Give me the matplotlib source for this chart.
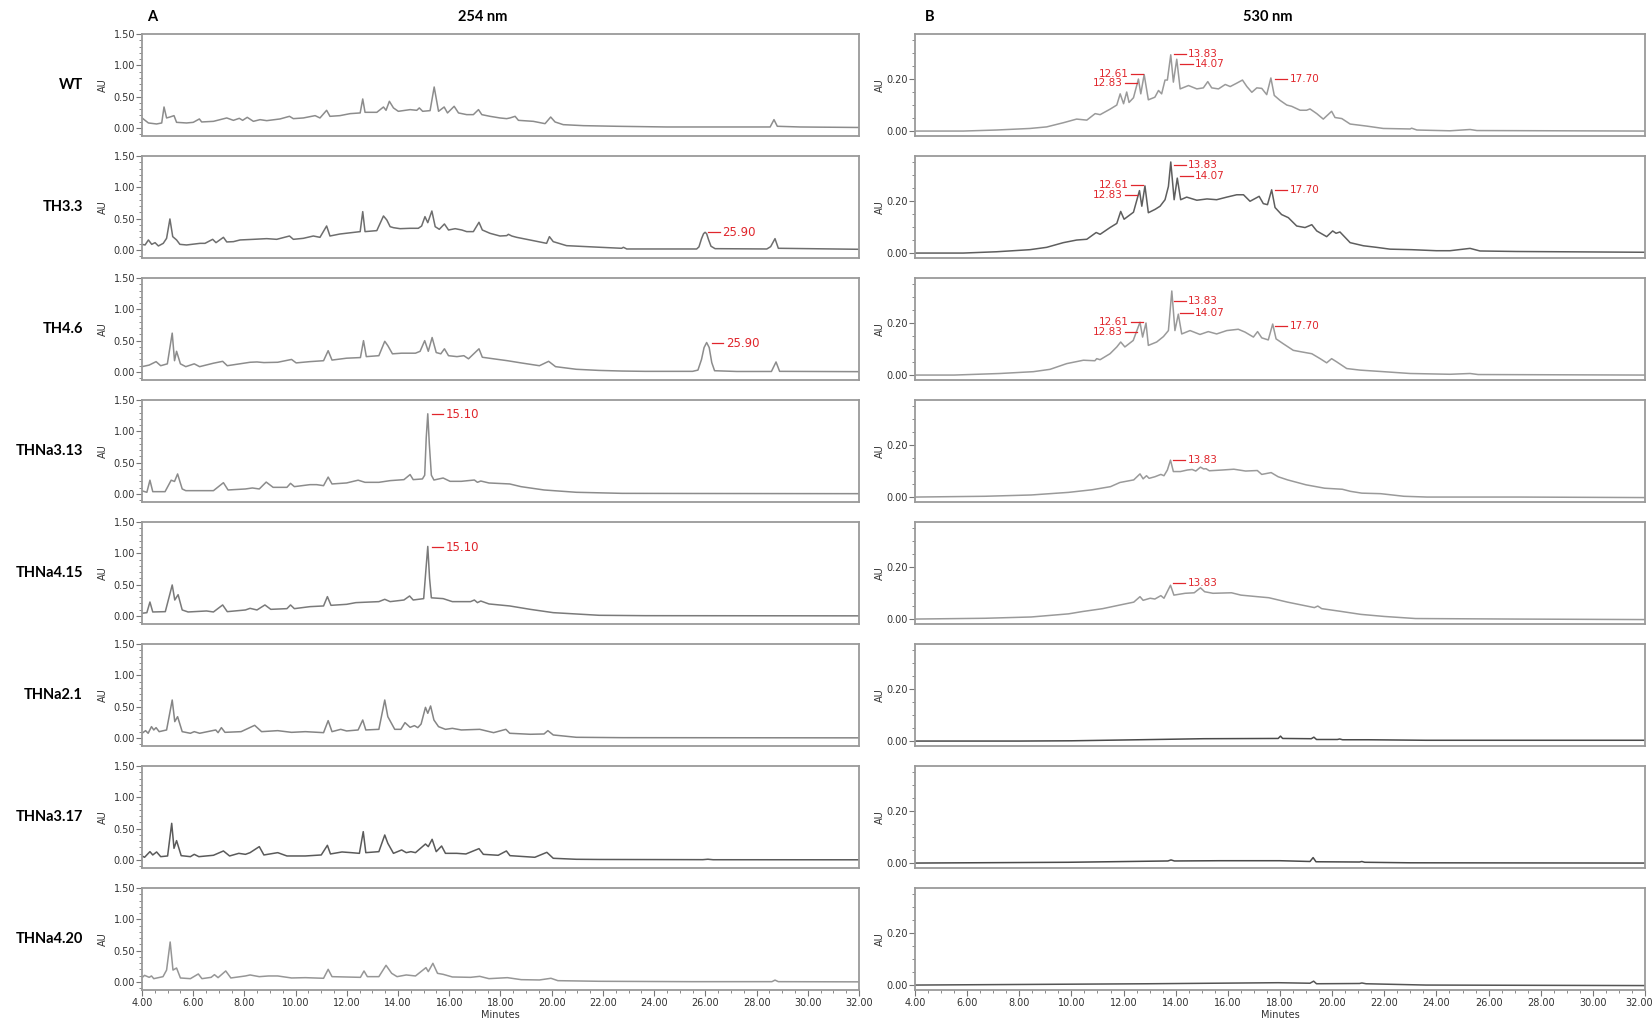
import numpy as np
import matplotlib.pyplot as plt
import matplotlib.transforms as mtransforms
from matplotlib.ticker import MultipleLocator, FixedLocator, FormatStrFormatter

# sample names (rows)
samples = ["WT", "TH3.3", "TH4.6", "THNa3.13", "THNa4.15", "THNa2.1", "THNa3.17", "THNa4.20"]

# ---- 254 nm traces, (minutes, AU) ----
wt_254 = [(4.0, 0.16), (4.25, 0.08), (4.57, 0.064), (4.77, 0.08), (4.86, 0.335), (4.96, 0.16), (5.09, 0.175),
          (5.25, 0.197), (5.35, 0.09), (5.74, 0.08), (6.0, 0.09), (6.24, 0.144), (6.33, 0.096), (6.79, 0.106),
          (7.31, 0.16), (7.57, 0.122), (7.8, 0.154), (7.93, 0.122), (8.11, 0.17), (8.35, 0.106), (8.61, 0.133),
          (8.87, 0.117), (9.39, 0.144), (9.76, 0.186), (9.91, 0.149), (10.3, 0.16), (10.76, 0.197), (10.95, 0.16),
          (11.21, 0.282), (11.34, 0.186), (11.73, 0.197), (12.13, 0.229), (12.52, 0.24), (12.62, 0.463),
          (12.71, 0.25), (13.17, 0.25), (13.43, 0.335), (13.53, 0.282), (13.66, 0.426), (13.82, 0.32),
          (14.01, 0.266), (14.47, 0.293), (14.73, 0.282), (14.83, 0.32), (14.96, 0.266), (15.25, 0.277),
          (15.41, 0.654), (15.58, 0.266), (15.8, 0.335), (15.93, 0.24), (16.19, 0.346), (16.36, 0.24),
          (16.68, 0.213), (16.94, 0.213), (17.14, 0.293), (17.27, 0.213), (17.59, 0.186), (17.98, 0.16),
          (18.24, 0.149), (18.37, 0.16), (18.57, 0.186), (18.7, 0.122), (19.28, 0.106), (19.74, 0.069),
          (19.96, 0.175), (20.13, 0.096), (20.45, 0.053), (21.24, 0.037), (22.54, 0.027), (24.49, 0.016),
          (27.09, 0.016), (28.53, 0.016), (28.68, 0.133), (28.81, 0.027), (29.7, 0.016), (32.0, 0.008)]

th33_254 = [(4.0, 0.09), (4.12, 0.08), (4.25, 0.16), (4.38, 0.09), (4.51, 0.117), (4.64, 0.064), (4.83, 0.106),
            (4.96, 0.186), (5.09, 0.495), (5.2, 0.213), (5.35, 0.16), (5.48, 0.09), (5.74, 0.08), (6.27, 0.106),
            (6.46, 0.106), (6.76, 0.17), (6.89, 0.117), (7.18, 0.202), (7.31, 0.128), (7.57, 0.133), (7.83, 0.16),
            (8.35, 0.17), (8.87, 0.181), (9.26, 0.17), (9.76, 0.223), (9.91, 0.17), (10.3, 0.186), (10.69, 0.223),
            (10.95, 0.202), (11.21, 0.383), (11.34, 0.223), (11.73, 0.255), (12.52, 0.293), (12.62, 0.612),
            (12.71, 0.293), (13.17, 0.309), (13.43, 0.543), (13.56, 0.479), (13.69, 0.372), (13.82, 0.356),
            (14.08, 0.34), (14.47, 0.346), (14.79, 0.346), (14.92, 0.383), (15.05, 0.532), (15.16, 0.436),
            (15.32, 0.622), (15.45, 0.372), (15.61, 0.33), (15.81, 0.415), (15.97, 0.319), (16.23, 0.34),
            (16.49, 0.319), (16.68, 0.293), (16.94, 0.293), (17.16, 0.442), (17.29, 0.319), (17.59, 0.266),
            (17.98, 0.223), (18.24, 0.229), (18.31, 0.25), (18.44, 0.223), (18.63, 0.202), (19.28, 0.149),
            (19.8, 0.106), (19.91, 0.213), (20.06, 0.133), (20.58, 0.069), (21.89, 0.043), (22.73, 0.027),
            (22.8, 0.043), (22.93, 0.016), (25.66, 0.016), (25.75, 0.05), (25.85, 0.18), (25.93, 0.26),
            (25.99, 0.282), (26.05, 0.26), (26.12, 0.17), (26.22, 0.06), (26.38, 0.021), (28.4, 0.016),
            (28.55, 0.053), (28.72, 0.181), (28.85, 0.027), (32.0, 0.011)]

th46_254 = [(4.0, 0.085), (4.28, 0.11), (4.55, 0.165), (4.73, 0.10), (4.99, 0.13), (5.18, 0.62), (5.27, 0.18),
            (5.35, 0.33), (5.5, 0.13), (5.71, 0.085), (6.04, 0.13), (6.25, 0.085), (6.79, 0.14), (7.15, 0.17),
            (7.33, 0.10), (8.22, 0.155), (8.49, 0.16), (8.76, 0.15), (9.3, 0.155), (9.84, 0.2), (10.02, 0.145),
            (10.55, 0.165), (11.09, 0.18), (11.27, 0.34), (11.42, 0.19), (11.99, 0.22), (12.53, 0.23),
            (12.65, 0.50), (12.76, 0.245), (13.25, 0.26), (13.48, 0.49), (13.6, 0.42), (13.78, 0.29),
            (14.14, 0.30), (14.68, 0.30), (14.86, 0.33), (15.04, 0.50), (15.18, 0.33), (15.33, 0.55),
            (15.49, 0.31), (15.67, 0.29), (15.81, 0.37), (15.97, 0.26), (16.3, 0.245), (16.57, 0.26),
            (16.75, 0.21), (17.16, 0.37), (17.29, 0.235), (17.73, 0.21), (18.27, 0.18), (18.8, 0.145),
            (19.52, 0.10), (19.88, 0.17), (20.15, 0.085), (20.96, 0.043), (21.85, 0.025), (22.75, 0.015),
            (23.65, 0.01), (25.5, 0.01), (25.71, 0.03), (25.85, 0.2), (25.95, 0.39), (26.05, 0.47), (26.15, 0.39),
            (26.25, 0.15), (26.36, 0.02), (27.23, 0.008), (28.58, 0.008), (28.76, 0.16), (28.9, 0.01), (32.0, 0.005)]

thna313_254 = [(4.0, 0.05), (4.19, 0.027), (4.31, 0.22), (4.42, 0.037), (4.9, 0.037), (5.14, 0.22), (5.27, 0.2),
               (5.39, 0.32), (5.57, 0.08), (5.71, 0.053), (6.79, 0.053), (7.18, 0.18), (7.36, 0.064), (8.04, 0.08),
               (8.31, 0.096), (8.58, 0.08), (8.85, 0.19), (9.12, 0.106), (9.66, 0.106), (9.8, 0.17), (9.95, 0.117),
               (10.56, 0.149), (10.82, 0.149), (11.09, 0.133), (11.27, 0.27), (11.42, 0.16), (11.99, 0.176),
               (12.44, 0.22), (12.71, 0.186), (13.25, 0.186), (13.69, 0.213), (14.23, 0.229), (14.47, 0.31),
               (14.59, 0.229), (14.95, 0.24), (15.04, 0.3), (15.1, 0.9), (15.16, 1.28), (15.22, 0.8), (15.3, 0.3),
               (15.4, 0.223), (15.76, 0.255), (16.03, 0.202), (16.47, 0.202), (16.98, 0.223), (17.1, 0.186),
               (17.23, 0.207), (17.55, 0.176), (18.36, 0.16), (18.8, 0.117), (19.7, 0.064), (20.96, 0.027),
               (22.75, 0.01), (25.44, 0.008), (32.0, 0.005)]

thna415_254 = [(4.0, 0.043), (4.19, 0.053), (4.31, 0.223), (4.42, 0.064), (4.91, 0.069), (5.18, 0.495),
               (5.28, 0.255), (5.41, 0.34), (5.57, 0.096), (5.8, 0.064), (6.52, 0.08), (6.79, 0.064), (7.15, 0.176),
               (7.33, 0.069), (8.04, 0.096), (8.22, 0.122), (8.49, 0.096), (8.8, 0.176), (9.03, 0.106),
               (9.66, 0.117), (9.8, 0.176), (9.95, 0.117), (10.56, 0.149), (11.09, 0.16), (11.24, 0.309),
               (11.38, 0.17), (11.99, 0.186), (12.35, 0.213), (13.25, 0.229), (13.48, 0.266), (13.69, 0.229),
               (14.23, 0.255), (14.45, 0.319), (14.59, 0.255), (15.0, 0.277), (15.08, 0.7), (15.16, 1.11),
               (15.23, 0.6), (15.3, 0.29), (15.76, 0.277), (16.12, 0.229), (16.83, 0.229), (16.98, 0.255),
               (17.1, 0.213), (17.23, 0.239), (17.55, 0.192), (18.36, 0.16), (19.16, 0.106), (20.06, 0.053),
               (21.85, 0.011), (23.65, 0.005), (32.0, 0.002)]

thna21_254 = [(4.0, 0.075), (4.14, 0.117), (4.24, 0.075), (4.37, 0.181), (4.46, 0.128), (4.55, 0.165),
              (4.67, 0.101), (4.96, 0.128), (5.18, 0.606), (5.28, 0.261), (5.39, 0.34), (5.57, 0.101),
              (5.89, 0.075), (6.04, 0.101), (6.25, 0.075), (6.88, 0.128), (6.97, 0.085), (7.1, 0.165),
              (7.24, 0.09), (7.87, 0.101), (8.4, 0.202), (8.67, 0.101), (9.3, 0.117), (9.84, 0.09), (10.38, 0.101),
              (11.09, 0.085), (11.27, 0.277), (11.42, 0.101), (11.76, 0.138), (11.99, 0.112), (12.44, 0.128),
              (12.62, 0.287), (12.74, 0.128), (13.25, 0.138), (13.48, 0.606), (13.6, 0.34), (13.87, 0.138),
              (14.11, 0.138), (14.27, 0.245), (14.47, 0.17), (14.64, 0.197), (14.77, 0.165), (14.9, 0.223),
              (15.07, 0.489), (15.16, 0.394), (15.27, 0.511), (15.4, 0.287), (15.58, 0.181), (15.85, 0.138),
              (16.12, 0.154), (16.47, 0.128), (17.19, 0.138), (17.73, 0.085), (18.21, 0.138), (18.36, 0.075),
              (19.16, 0.059), (19.7, 0.064), (19.85, 0.117), (20.06, 0.048), (20.96, 0.011), (22.75, 0.005),
              (32.0, 0.002)]

thna317_254 = [(4.0, 0.064), (4.1, 0.043), (4.31, 0.133), (4.42, 0.08), (4.57, 0.128), (4.73, 0.053), (5.0, 0.064),
               (5.16, 0.585), (5.25, 0.186), (5.35, 0.309), (5.53, 0.069), (5.89, 0.053), (6.04, 0.09),
               (6.22, 0.053), (6.79, 0.075), (7.18, 0.144), (7.42, 0.064), (7.78, 0.106), (8.04, 0.09),
               (8.22, 0.117), (8.58, 0.213), (8.76, 0.08), (9.3, 0.117), (9.66, 0.064), (10.38, 0.064),
               (11.0, 0.08), (11.24, 0.234), (11.36, 0.096), (11.81, 0.128), (12.17, 0.117), (12.49, 0.106),
               (12.64, 0.452), (12.74, 0.117), (13.25, 0.133), (13.48, 0.399), (13.6, 0.266), (13.82, 0.106),
               (14.14, 0.16), (14.32, 0.117), (14.5, 0.133), (14.68, 0.117), (15.07, 0.255), (15.18, 0.213),
               (15.33, 0.33), (15.49, 0.133), (15.7, 0.223), (15.85, 0.106), (16.29, 0.106), (16.65, 0.096),
               (17.16, 0.181), (17.33, 0.09), (17.91, 0.075), (18.23, 0.144), (18.37, 0.069), (19.34, 0.043),
               (19.81, 0.122), (20.06, 0.027), (20.96, 0.011), (21.85, 0.008), (25.9, 0.005), (26.1, 0.012),
               (26.3, 0.004), (32.0, 0.003)]

thna420_254 = [(4.0, 0.069), (4.1, 0.106), (4.28, 0.074), (4.37, 0.096), (4.46, 0.053), (4.82, 0.085),
               (4.96, 0.19), (5.1, 0.638), (5.21, 0.19), (5.35, 0.223), (5.5, 0.064), (5.89, 0.053), (6.2, 0.128),
               (6.34, 0.053), (6.7, 0.074), (6.83, 0.117), (6.97, 0.069), (7.27, 0.176), (7.47, 0.064),
               (8.04, 0.096), (8.22, 0.112), (8.58, 0.085), (8.94, 0.096), (9.3, 0.096), (9.84, 0.064),
               (10.38, 0.069), (11.09, 0.059), (11.27, 0.202), (11.42, 0.085), (12.53, 0.074), (12.67, 0.176),
               (12.8, 0.085), (13.25, 0.085), (13.53, 0.266), (13.75, 0.138), (13.96, 0.085), (14.32, 0.112),
               (14.68, 0.096), (15.09, 0.229), (15.18, 0.165), (15.36, 0.298), (15.54, 0.138), (15.76, 0.122),
               (16.12, 0.08), (16.83, 0.074), (17.19, 0.09), (17.55, 0.053), (18.27, 0.069), (18.81, 0.037),
               (19.52, 0.032), (19.97, 0.059), (20.24, 0.021), (21.85, 0.011), (25.44, 0.005), (28.6, 0.005),
               (28.72, 0.03), (28.85, 0.005), (32.0, 0.002)]

# ---- 530 nm traces ----
wt_530 = [(4.0, 0.0), (5.85, 0.0), (7.13, 0.004), (8.41, 0.01), (9.05, 0.016), (9.69, 0.032), (10.2, 0.046),
          (10.59, 0.042), (10.91, 0.067), (11.1, 0.063), (11.48, 0.084), (11.74, 0.10), (11.87, 0.143),
          (12.0, 0.105), (12.12, 0.15), (12.21, 0.11), (12.38, 0.128), (12.57, 0.20), (12.66, 0.143),
          (12.79, 0.217), (12.95, 0.12), (13.2, 0.13), (13.34, 0.156), (13.46, 0.143), (13.59, 0.196),
          (13.68, 0.196), (13.81, 0.293), (13.91, 0.188), (14.04, 0.276), (14.17, 0.162), (14.49, 0.175),
          (14.81, 0.162), (15.06, 0.166), (15.23, 0.19), (15.38, 0.166), (15.64, 0.162), (15.9, 0.179),
          (16.09, 0.171), (16.34, 0.184), (16.56, 0.196), (16.73, 0.171), (16.92, 0.149), (17.11, 0.166),
          (17.3, 0.164), (17.49, 0.14), (17.65, 0.204), (17.78, 0.137), (18.0, 0.118), (18.26, 0.10),
          (18.45, 0.095), (18.77, 0.08), (19.02, 0.08), (19.15, 0.085), (19.41, 0.067), (19.66, 0.046),
          (19.98, 0.076), (20.11, 0.052), (20.37, 0.048), (20.69, 0.027), (21.33, 0.019), (21.96, 0.01),
          (22.99, 0.008), (23.05, 0.011), (23.25, 0.004), (24.52, 0.001), (25.29, 0.006), (25.55, 0.002),
          (32.0, 0.0)]

th33_530 = [(4.0, 0.0), (5.85, 0.0), (7.13, 0.005), (8.41, 0.013), (9.05, 0.022), (9.69, 0.04), (10.2, 0.05),
            (10.59, 0.053), (10.95, 0.079), (11.1, 0.072), (11.48, 0.098), (11.74, 0.114), (11.89, 0.16),
            (12.02, 0.13), (12.18, 0.142), (12.38, 0.157), (12.61, 0.24), (12.7, 0.18), (12.82, 0.258),
            (12.95, 0.155), (13.21, 0.168), (13.4, 0.18), (13.59, 0.205), (13.72, 0.256), (13.81, 0.35),
            (13.94, 0.205), (14.06, 0.288), (14.19, 0.205), (14.42, 0.215), (14.81, 0.203), (15.2, 0.208),
            (15.57, 0.205), (15.96, 0.215), (16.34, 0.224), (16.6, 0.224), (16.85, 0.199), (17.2, 0.218),
            (17.36, 0.19), (17.52, 0.186), (17.68, 0.243), (17.81, 0.175), (18.06, 0.148), (18.32, 0.136),
            (18.64, 0.104), (18.96, 0.098), (19.22, 0.109), (19.41, 0.085), (19.79, 0.063), (20.02, 0.085),
            (20.15, 0.076), (20.3, 0.081), (20.69, 0.04), (21.2, 0.028), (21.7, 0.022), (22.22, 0.015),
            (23.05, 0.013), (24.0, 0.009), (24.52, 0.009), (25.29, 0.018), (25.67, 0.008), (27.08, 0.006),
            (32.0, 0.003)]

th46_530 = [(4.0, 0.0), (5.5, 0.0), (7.26, 0.006), (8.54, 0.013), (9.18, 0.022), (9.82, 0.044), (10.46, 0.057),
            (10.9, 0.055), (10.97, 0.063), (11.1, 0.059), (11.48, 0.082), (11.74, 0.108), (11.89, 0.127),
            (12.05, 0.108), (12.37, 0.133), (12.63, 0.203), (12.73, 0.146), (12.86, 0.2), (12.95, 0.114),
            (13.27, 0.127), (13.53, 0.148), (13.72, 0.171), (13.85, 0.323), (13.97, 0.171), (14.1, 0.234),
            (14.23, 0.158), (14.55, 0.171), (14.93, 0.156), (15.25, 0.167), (15.57, 0.158), (15.96, 0.171),
            (16.4, 0.176), (16.66, 0.165), (16.98, 0.146), (17.14, 0.167), (17.3, 0.143), (17.55, 0.135),
            (17.72, 0.196), (17.85, 0.139), (18.13, 0.12), (18.51, 0.095), (18.83, 0.089), (19.22, 0.082),
            (19.54, 0.063), (19.79, 0.047), (19.98, 0.063), (20.17, 0.051), (20.56, 0.025), (21.07, 0.019),
            (21.97, 0.013), (22.99, 0.006), (24.52, 0.003), (25.29, 0.006), (25.6, 0.002), (32.0, 0.0)]

thna313_530 = [(4.0, 0.0), (6.68, 0.003), (8.46, 0.008), (9.89, 0.018), (10.79, 0.028), (11.5, 0.04),
               (11.86, 0.056), (12.39, 0.066), (12.63, 0.089), (12.75, 0.07), (12.88, 0.082), (12.98, 0.072),
               (13.2, 0.078), (13.43, 0.087), (13.55, 0.082), (13.68, 0.104), (13.8, 0.142), (13.91, 0.098),
               (14.18, 0.098), (14.45, 0.104), (14.63, 0.106), (14.77, 0.1), (14.95, 0.115), (15.07, 0.108),
               (15.16, 0.109), (15.29, 0.101), (15.79, 0.104), (16.23, 0.107), (16.68, 0.1), (17.13, 0.102),
               (17.3, 0.087), (17.66, 0.094), (17.93, 0.078), (18.29, 0.066), (19.0, 0.047), (19.71, 0.034),
               (20.39, 0.03), (20.7, 0.022), (21.14, 0.015), (21.86, 0.013), (22.75, 0.003), (23.64, 0.0),
               (27.2, 0.0), (32.0, -0.002)]

thna415_530 = [(4.0, 0.0), (6.68, 0.003), (8.46, 0.008), (9.89, 0.02), (10.43, 0.029), (11.2, 0.04),
               (11.86, 0.054), (12.39, 0.065), (12.63, 0.086), (12.75, 0.072), (13.02, 0.08), (13.2, 0.077),
               (13.43, 0.09), (13.55, 0.08), (13.8, 0.13), (13.93, 0.092), (14.36, 0.099), (14.71, 0.101),
               (14.95, 0.12), (15.11, 0.105), (15.43, 0.099), (16.14, 0.101), (16.5, 0.092), (17.13, 0.086),
               (17.57, 0.082), (18.29, 0.065), (19.32, 0.044), (19.45, 0.05), (19.6, 0.04), (20.3, 0.03),
               (21.1, 0.018), (22.0, 0.01), (23.2, 0.002), (27.0, 0.0), (32.0, -0.002)]

thna21_530 = [(4.0, 0.0), (8.0, 0.0), (10.0, 0.001), (12.57, 0.005), (15.07, 0.009), (17.93, 0.01),
              (18.02, 0.019), (18.1, 0.01), (19.2, 0.009), (19.3, 0.015), (19.4, 0.006), (20.2, 0.006),
              (20.29, 0.008), (20.4, 0.005), (21.4, 0.005), (23.6, 0.003), (32.0, 0.003)]

thna317_530 = [(4.0, 0.0), (9.89, 0.003), (13.7, 0.008), (13.82, 0.012), (13.95, 0.008), (15.7, 0.009),
               (18.0, 0.009), (19.15, 0.006), (19.27, 0.021), (19.38, 0.005), (21.05, 0.004), (21.14, 0.006),
               (21.25, 0.003), (23.0, 0.001), (32.0, 0.0)]

thna420_530 = [(4.0, 0.0), (12.93, 0.005), (17.93, 0.009), (19.15, 0.007), (19.29, 0.015), (19.4, 0.005),
               (21.05, 0.006), (21.14, 0.008), (21.3, 0.005), (23.6, 0.0), (32.0, -0.002)]

traces_254 = [wt_254, th33_254, th46_254, thna313_254, thna415_254, thna21_254, thna317_254, thna420_254]
traces_530 = [wt_530, th33_530, th46_530, thna313_530, thna415_530, thna21_530, thna317_530, thna420_530]

# line colours per row
colors_254 = ["#8c8c8c", "#6e6e6e", "#8c8c8c", "#8c8c8c", "#7a7a7a", "#858585", "#5a5a5a", "#969696"]
colors_530 = ["#9a9a9a", "#5e5e5e", "#9a9a9a", "#9a9a9a", "#9a9a9a", "#4a4a4a", "#4a4a4a", "#555555"]

# retention-time labels: (row, line start, line end, AU level, text, side)
labels_254 = [(1, 26.12, 26.57, 0.28, "25.90", "right"),
              (2, 26.25, 26.70, 0.46, "25.90", "right"),
              (3, 15.34, 15.76, 1.27, "15.10", "right"),
              (4, 15.34, 15.76, 1.10, "15.10", "right")]
labels_530 = [(0, 12.29, 12.76, 0.218, "12.61", "left"), (0, 12.06, 12.53, 0.184, "12.83", "left"),
              (0, 13.93, 14.38, 0.295, "13.83", "right"), (0, 14.17, 14.65, 0.256, "14.07", "right"),
              (0, 17.81, 18.28, 0.200, "17.70", "right"),
              (1, 12.29, 12.76, 0.261, "12.61", "left"), (1, 12.06, 12.53, 0.225, "12.83", "left"),
              (1, 13.93, 14.38, 0.338, "13.83", "right"), (1, 14.17, 14.65, 0.296, "14.07", "right"),
              (1, 17.81, 18.28, 0.242, "17.70", "right"),
              (2, 12.29, 12.76, 0.205, "12.61", "left"), (2, 12.06, 12.53, 0.166, "12.83", "left"),
              (2, 13.93, 14.38, 0.283, "13.83", "right"), (2, 14.17, 14.65, 0.240, "14.07", "right"),
              (2, 17.81, 18.28, 0.187, "17.70", "right"),
              (3, 13.91, 14.36, 0.142, "13.83", "right"),
              (4, 13.91, 14.36, 0.140, "13.83", "right")]

RED = "#e0262c"
FRAME = "#9a9a9a"
narrow = ["Liberation Sans Narrow", "DejaVu Sans"]
bold_font = ["Lato", "DejaVu Sans"]

W, H = 1652, 1023
fig = plt.figure(figsize=(W / 100, H / 100), dpi=100)


def setup_axes(ax, ymax_major, yminor, ylim, last):
    ax.set_xlim(4, 32)
    ax.set_ylim(*ylim)
    ax.yaxis.set_major_locator(FixedLocator(ymax_major))
    ax.yaxis.set_minor_locator(MultipleLocator(yminor))
    ax.yaxis.set_major_formatter(FormatStrFormatter("%.2f"))
    for s in ax.spines.values():
        s.set_color(FRAME)
        s.set_linewidth(1.3)
    ax.tick_params(axis="y", which="major", length=4, width=0.8, color="#777777", labelsize=7,
                   labelcolor="#333333", pad=1)
    ax.tick_params(axis="y", which="minor", length=2, width=0.6, color="#777777")
    for lab in ax.get_yticklabels():
        lab.set_family(narrow)
    if last:
        ax.set_xticks(np.arange(4, 33, 2))
        ax.xaxis.set_minor_locator(MultipleLocator(0.5))
        ax.xaxis.set_major_formatter(FormatStrFormatter("%.2f"))
        ax.tick_params(axis="x", which="major", length=4, width=0.8, color="#777777", labelsize=7,
                       labelcolor="#333333", pad=2)
        ax.tick_params(axis="x", which="minor", length=2.5, width=0.6, color="#777777")
        for lab in ax.get_xticklabels():
            lab.set_family(narrow)
        ax.set_xlabel("Minutes", fontsize=7, color="#333333", labelpad=1, family=narrow)
    else:
        ax.tick_params(axis="x", which="both", bottom=False, labelbottom=False)


def add_label(ax, t0, t1, y, text, side, size, family):
    ax.plot([t0, t1], [y, y], color=RED, lw=0.9)
    if side == "right":
        ax.text(t1 + 0.1, y, text, ha="left", va="center", color=RED, fontsize=size, family=family)
    else:
        ax.text(t0 - 0.1, y, text, ha="right", va="center", color=RED, fontsize=size, family=family)


axes_254, axes_530 = [], []
for r in range(8):
    top = 34 + 122 * r
    bottom = top + 102
    yb = 1 - bottom / H
    h = 102 / H
    a1 = fig.add_axes([142 / W, yb, (859 - 142) / W, h])
    a2 = fig.add_axes([915 / W, yb, (1645 - 915) / W, h])
    last = r == 7
    setup_axes(a1, [0.0, 0.5, 1.0, 1.5], 0.1, (-0.128, 1.5), last)
    setup_axes(a2, [0.0, 0.2], 0.05, (-0.019, 0.373), last)

    t, au = zip(*traces_254[r])
    a1.plot(t, au, color=colors_254[r], lw=1.1)
    t, au = zip(*traces_530[r])
    a2.plot(t, au, color=colors_530[r], lw=1.1)

    ymid = 1 - (top + bottom) / 2 / H
    fig.text(83 / W, ymid, samples[r], ha="right", va="center", fontsize=10.5, weight="bold", family=bold_font)
    fig.text(103 / W, ymid, "AU", ha="center", va="center", rotation=90, fontsize=7, color="#333333", family=narrow)
    fig.text(880 / W, ymid, "AU", ha="center", va="center", rotation=90, fontsize=7, color="#333333", family=narrow)
    axes_254.append(a1)
    axes_530.append(a2)

# keep the last "32.00" tick label of the right panel inside the image
edge_label = axes_530[-1].xaxis.get_major_ticks()[-1].label1
edge_label.set_transform(edge_label.get_transform()
                         + mtransforms.ScaledTranslation(-6 / 100, 0, fig.dpi_scale_trans))

for r, t0, t1, y, text, side in labels_254:
    add_label(axes_254[r], t0, t1, y, text, side, 8.5, narrow)
for r, t0, t1, y, text, side in labels_530:
    add_label(axes_530[r], t0, t1, y, text, side, 7.5, ["DejaVu Sans"])

# panel headings
fig.text(152 / W, 1 - 17 / H, "A", ha="center", va="center", fontsize=10.5, weight="bold", family=bold_font)
fig.text(483 / W, 1 - 17 / H, "254 nm", ha="center", va="center", fontsize=10.5, weight="bold", family=bold_font)
fig.text(930 / W, 1 - 17 / H, "B", ha="center", va="center", fontsize=10.5, weight="bold", family=bold_font)
fig.text(1268 / W, 1 - 17 / H, "530 nm", ha="center", va="center", fontsize=10.5, weight="bold", family=bold_font)

fig.savefig("out.png", dpi=100, facecolor="white")
